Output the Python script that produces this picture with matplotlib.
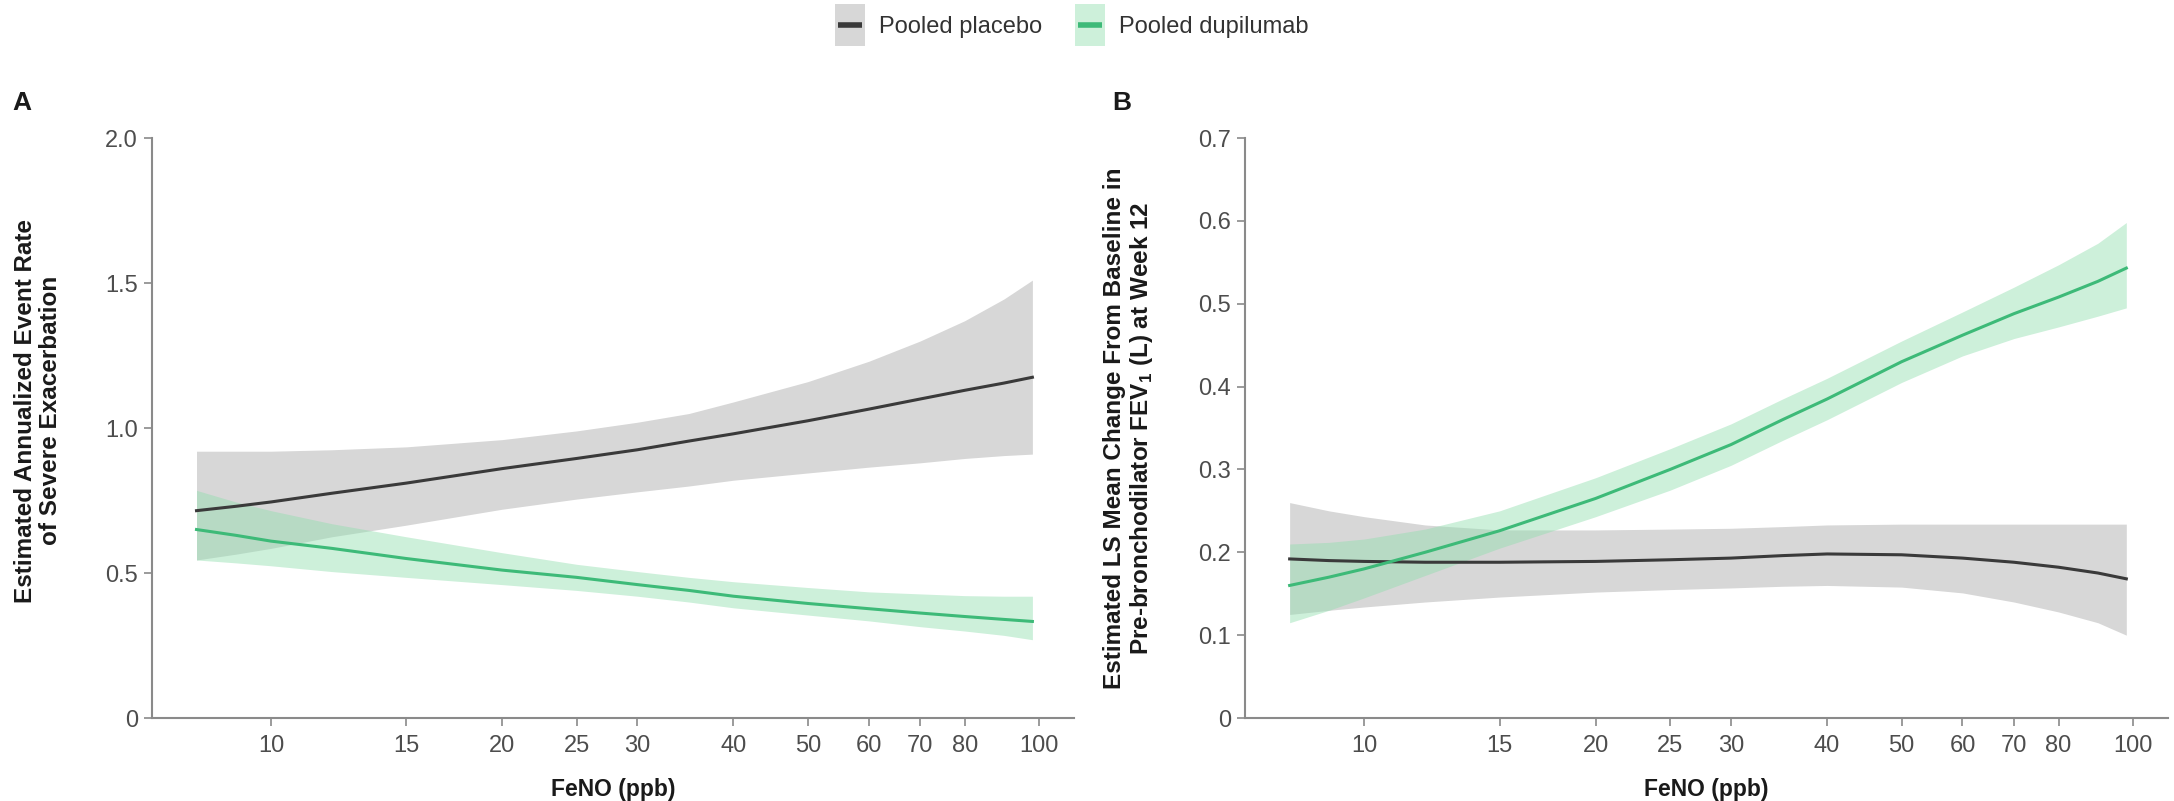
import matplotlib
matplotlib.use("Agg")
import matplotlib.pyplot as plt
from matplotlib.patches import Rectangle
from matplotlib.lines import Line2D
from matplotlib.ticker import FixedLocator, NullLocator

plt.rcParams['font.family'] = ['Liberation Sans', 'DejaVu Sans']

# FeNO grid (ppb) shared by both panels
feno = [8, 9, 10, 12, 15, 20, 25, 30, 35, 40, 50, 60, 70, 80, 90, 98]

# A: annualized severe exacerbation rate
a_pla = [0.715, 0.73, 0.745, 0.775, 0.81, 0.86, 0.895, 0.925, 0.955, 0.98, 1.025, 1.065, 1.10, 1.13, 1.155, 1.175]
a_pla_hi = [0.92, 0.92, 0.92, 0.925, 0.935, 0.96, 0.99, 1.02, 1.05, 1.09, 1.16, 1.23, 1.30, 1.37, 1.445, 1.51]
a_pla_lo = [0.545, 0.565, 0.585, 0.625, 0.665, 0.72, 0.755, 0.78, 0.80, 0.82, 0.845, 0.865, 0.88, 0.895, 0.905, 0.91]
a_dup = [0.65, 0.63, 0.61, 0.585, 0.55, 0.51, 0.485, 0.46, 0.44, 0.42, 0.395, 0.377, 0.362, 0.35, 0.34, 0.333]
a_dup_hi = [0.785, 0.745, 0.715, 0.67, 0.625, 0.57, 0.53, 0.505, 0.485, 0.47, 0.45, 0.435, 0.428, 0.422, 0.42, 0.42]
a_dup_lo = [0.545, 0.535, 0.525, 0.505, 0.485, 0.46, 0.44, 0.42, 0.40, 0.38, 0.355, 0.335, 0.315, 0.30, 0.285, 0.27]

# B: LS mean change in pre-BD FEV1 (L) at week 12
b_pla = [0.192, 0.190, 0.189, 0.188, 0.188, 0.189, 0.191, 0.193, 0.196, 0.198, 0.197, 0.193, 0.188, 0.182, 0.175, 0.168]
b_pla_hi = [0.26, 0.25, 0.243, 0.233, 0.227, 0.227, 0.228, 0.229, 0.231, 0.233, 0.234, 0.234, 0.234, 0.234, 0.234, 0.234]
b_pla_lo = [0.125, 0.13, 0.134, 0.14, 0.146, 0.152, 0.155, 0.157, 0.159, 0.16, 0.158, 0.151, 0.14, 0.128, 0.115, 0.10]
b_dup = [0.16, 0.17, 0.18, 0.20, 0.226, 0.265, 0.30, 0.33, 0.36, 0.385, 0.43, 0.462, 0.488, 0.508, 0.527, 0.543]
b_dup_hi = [0.21, 0.212, 0.216, 0.228, 0.25, 0.29, 0.325, 0.355, 0.385, 0.41, 0.455, 0.49, 0.52, 0.547, 0.573, 0.598]
b_dup_lo = [0.115, 0.13, 0.145, 0.172, 0.205, 0.243, 0.275, 0.305, 0.335, 0.36, 0.405, 0.437, 0.458, 0.472, 0.485, 0.495]

xticks = [10, 15, 20, 25, 30, 40, 50, 60, 70, 80, 100]

PLA_BAND = '#d7d7d7'
PLA_LINE = '#3a3a3a'
DUP_BAND = '#90deae'
DUP_LINE = '#3dba78'
AXIS_GREY = '#8a8a8a'
TEXT_GREY = '#4d4d4d'


class BandHandler:
    """Legend key: tall shaded box with the series line across it."""
    def __init__(self, band, alpha, line):
        self.band, self.alpha, self.line = band, alpha, line

    def legend_artist(self, legend, orig_handle, fontsize, handlebox):
        x0, y0 = handlebox.xdescent, handlebox.ydescent
        w, h = handlebox.width, handlebox.height
        yc = y0 + h / 2
        bh = 1.75 * fontsize  # box taller than the text row
        tr = handlebox.get_transform()
        box = Rectangle((x0, yc - bh / 2), w, bh, facecolor=self.band, alpha=self.alpha,
                        edgecolor='none', transform=tr)
        ln = Line2D([x0 + 0.1 * w, x0 + 0.9 * w], [yc, yc], color=self.line,
                    lw=4, solid_capstyle='butt', transform=tr)
        handlebox.add_artist(box)
        handlebox.add_artist(ln)
        return box


def draw_panel(ax, pla, pla_lo, pla_hi, dup, dup_lo, dup_hi, ylim, yticks, yticklabels,
               ylabel, ylabel_y, letter, letter_x):
    ax.fill_between(feno, pla_lo, pla_hi, color=PLA_BAND, lw=0, zorder=1)
    ax.fill_between(feno, dup_lo, dup_hi, color=DUP_BAND, alpha=0.45, lw=0, zorder=2)
    ax.plot(feno, pla, color=PLA_LINE, lw=2.2, zorder=3)
    ax.plot(feno, dup, color=DUP_LINE, lw=2.2, zorder=4)

    ax.set_xscale('log')
    ax.set_xlim(7.0, 111)
    ax.xaxis.set_major_locator(FixedLocator(xticks))
    ax.xaxis.set_minor_locator(NullLocator())
    ax.set_xticklabels([str(t) for t in xticks])
    ax.set_ylim(*ylim)
    ax.set_yticks(yticks)
    ax.set_yticklabels(yticklabels)

    for s in ['top', 'right']:
        ax.spines[s].set_visible(False)
    for s in ['left', 'bottom']:
        ax.spines[s].set_color(AXIS_GREY)
        ax.spines[s].set_linewidth(1.5)
    ax.tick_params(axis='both', colors=AXIS_GREY, labelcolor=TEXT_GREY,
                   labelsize=17, length=6, width=1.2)
    ax.tick_params(axis='x', pad=6)
    ax.tick_params(axis='y', pad=4)

    ax.set_xlabel('FeNO (ppb)', fontsize=16.5, fontweight='bold', color='#1a1a1a', labelpad=15)
    ax.set_ylabel(ylabel, fontsize=17.5, fontweight='bold', color='#1a1a1a', linespacing=1.1)
    ax.yaxis.set_label_coords(-0.098, ylabel_y)
    ax.text(letter_x, 1.06, letter, transform=ax.transAxes, fontsize=19,
            fontweight='bold', color='#1a1a1a', ha='left', va='center')


fig = plt.figure(figsize=(21.74, 8.01), dpi=100)
ax_a = fig.add_axes([0.0699, 0.1036, 0.4241, 0.7241])
ax_b = fig.add_axes([0.5727, 0.1036, 0.4245, 0.7241])

draw_panel(ax_a, a_pla, a_pla_lo, a_pla_hi, a_dup, a_dup_lo, a_dup_hi,
           (0, 2.0), [0, 0.5, 1.0, 1.5, 2.0], ['0', '0.5', '1.0', '1.5', '2.0'],
           'Estimated Annualized Event Rate\nof Severe Exacerbation', 0.53, 'A', -0.151)
draw_panel(ax_b, b_pla, b_pla_lo, b_pla_hi, b_dup, b_dup_lo, b_dup_hi,
           (0, 0.7), [0, 0.1, 0.2, 0.3, 0.4, 0.5, 0.6, 0.7], ['0', '0.1', '0.2', '0.3', '0.4', '0.5', '0.6', '0.7'],
           'Estimated LS Mean Change From Baseline in\nPre-bronchodilator FEV$_\\mathregular{1}$ (L) at Week 12', 0.5, 'B', -0.144)

h_pla = Rectangle((0, 0), 1, 1)
h_dup = Rectangle((0, 0), 1, 1)
fig.legend([h_pla, h_dup], ['Pooled placebo', 'Pooled dupilumab'],
           handler_map={h_pla: BandHandler(PLA_BAND, 1.0, PLA_LINE),
                        h_dup: BandHandler(DUP_BAND, 0.45, DUP_LINE)},
           loc='center', bbox_to_anchor=(0.493, 0.966), ncol=2, frameon=False,
           fontsize=17, handlelength=1.25, handletextpad=0.6,
           columnspacing=1.4, labelcolor='#333333')

fig.savefig('out.png', dpi=100)
